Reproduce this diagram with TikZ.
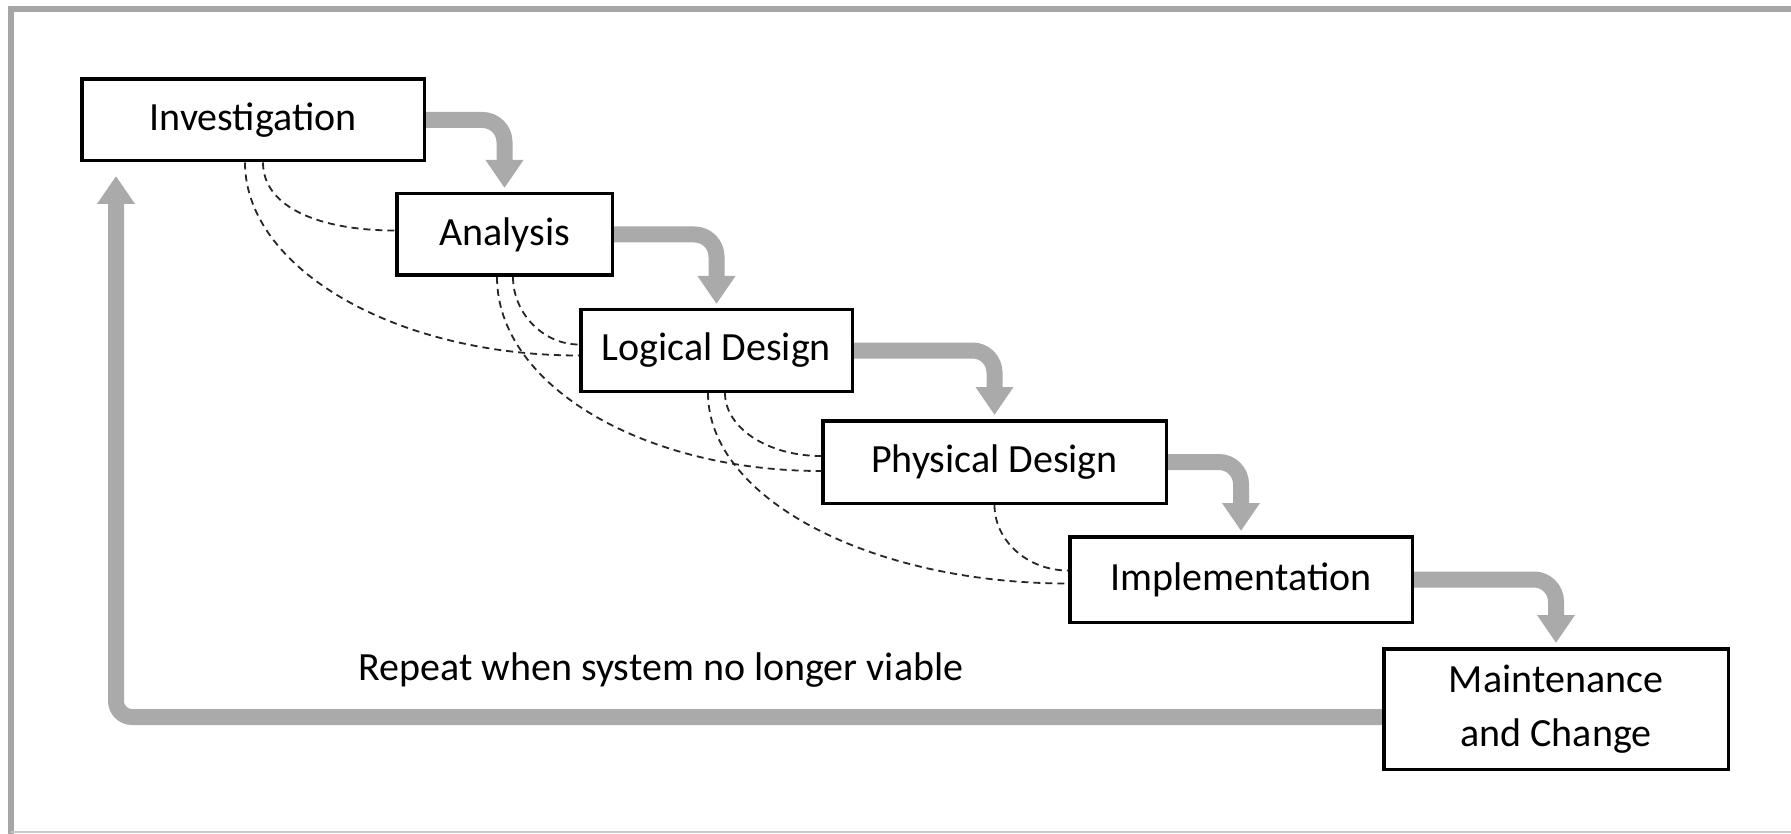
\documentclass[tikz,border=0pt]{standalone}
\usepackage{fontspec}
\setmainfont{Carlito}
\usetikzlibrary{arrows.meta,calc,backgrounds}
\definecolor{flowgray}{RGB}{170,170,170}
\definecolor{framegray}{RGB}{165,165,165}
\tikzset{
  stage/.style={draw=black, line width=3.5pt, fill=white, inner sep=0pt,
    font=\fontsize{40}{54}\selectfont, align=center},
  flowarrow/.style={draw=flowgray, line width=16pt, rounded corners=22pt,
    -{Triangle[width=36pt,length=28pt]}, shorten >=4pt},
  dline/.style={draw=black!85, line width=1.8pt, dash pattern=on 7pt off 5pt},
  lbl/.style={font=\fontsize{40}{54}\selectfont}
}
\begin{document}
\begin{tikzpicture}[x=1pt,y=-1pt]
\useasboundingbox (0,0) rectangle (1791,834);

% stages
\node[stage, minimum width=342.5pt, minimum height=81.5pt] (inv) at (253,120) {Investigation};
\node[stage, minimum width=215.5pt, minimum height=81.5pt] (ana) at (504.5,234.5) {Analysis};
\node[stage, minimum width=271.5pt, minimum height=81.5pt] (log) at (716.5,350.5) {Logical Design};
\node[stage, minimum width=343.5pt, minimum height=82.5pt] (phy) at (994.5,462) {Physical Design};
\node[stage, minimum width=342.5pt, minimum height=85.5pt] (imp) at (1241,579.5) {Implementation};
\node[stage, minimum width=344.5pt, minimum height=120.5pt] (mnt) at (1556,709) {Maintenance\\and Change};

\node[lbl] (rep) at (661,670) {Repeat when system no longer viable};
\coordinate (ret) at (116,176);

\begin{scope}[on background layer]
  \fill[white] (0,0) rectangle (1791,834);
  \draw[framegray, line width=6pt] (11,834) -- (11,9) -- (1791,9);
  \draw[framegray!60, line width=2pt] (11,832) -- (1791,832);
  % flow arrows
  \draw[flowarrow] (inv.east) -| (ana.north);
  \draw[flowarrow] (ana.east) -| (log.north);
  \draw[flowarrow] (log.east) -| (phy.north);
  \draw[flowarrow] (phy.east) -| (imp.north);
  \draw[flowarrow] (imp.east) -| (mnt.north);
  \draw[flowarrow, rounded corners=16pt, shorten >=0pt] ([yshift=-8pt]mnt.west) -| (ret);
\end{scope}

% dashed feedback curves
\draw[dline] ([xshift=10pt]inv.south) to[out=-90,in=180,out distance=45pt,in distance=75pt] ([yshift=4pt]ana.west);
\draw[dline] ([xshift=-8pt]inv.south) to[out=-90,in=180,out distance=105pt,in distance=185pt] ([yshift=-5pt]log.west);
\draw[dline] ([xshift=8.5pt]ana.south) to[out=-90,in=180,out distance=36pt,in distance=36pt] ([yshift=6pt]log.west);
\draw[dline] ([xshift=-7.5pt]ana.south) to[out=-90,in=180,out distance=108pt,in distance=178pt] ([yshift=-9pt]phy.west);
\draw[dline] ([xshift=8.5pt]log.south) to[out=-90,in=180,out distance=35pt,in distance=53pt] ([yshift=6pt]phy.west);
\draw[dline] ([xshift=-8.5pt]log.south) to[out=-90,in=180,out distance=105pt,in distance=198pt] ([yshift=-4pt]imp.west);
\draw[dline] (phy.south) to[out=-90,in=180,out distance=36pt,in distance=40pt] ([yshift=9pt]imp.west);
\end{tikzpicture}
\end{document}
